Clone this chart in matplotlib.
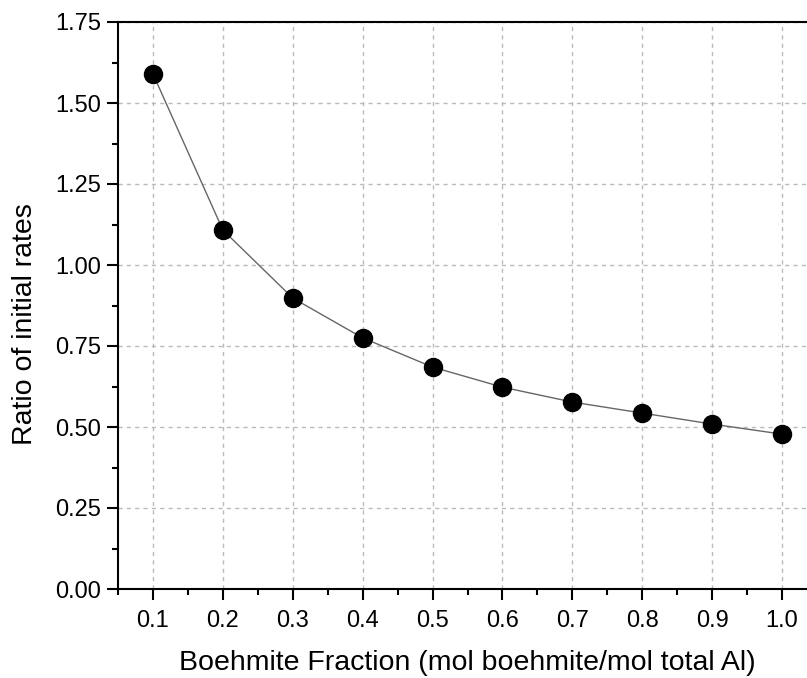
import matplotlib
matplotlib.use("Agg")
import matplotlib.pyplot as plt
from matplotlib.ticker import MultipleLocator, FormatStrFormatter

plt.rcParams['font.family'] = ['Liberation Sans', 'DejaVu Sans']

fraction = [0.1, 0.2, 0.3, 0.4, 0.5, 0.6, 0.7, 0.8, 0.9, 1.0]
ratio = [1.590, 1.108, 0.898, 0.775, 0.685, 0.623, 0.577, 0.543, 0.509, 0.478]

W, H = 807, 678
fig = plt.figure(figsize=(W / 100, H / 100), dpi=100)
ax = fig.add_axes([118 / W, (H - 589) / H, (817 - 118) / W, (589 - 22) / H])

ax.plot(fraction, ratio, color='#666666', lw=1.0, zorder=3)
ax.plot(fraction, ratio, 'o', color='black', ms=13, zorder=4)

ax.set_xlim(0.05, 1.05)
ax.set_ylim(0, 1.75)
ax.xaxis.set_major_locator(MultipleLocator(0.1))
ax.xaxis.set_minor_locator(MultipleLocator(0.05))
ax.yaxis.set_major_locator(MultipleLocator(0.25))
ax.yaxis.set_minor_locator(MultipleLocator(0.125))
ax.xaxis.set_major_formatter(FormatStrFormatter('%.1f'))
ax.yaxis.set_major_formatter(FormatStrFormatter('%.2f'))
ax.set_xticks([0.1, 0.2, 0.3, 0.4, 0.5, 0.6, 0.7, 0.8, 0.9, 1.0])

ax.grid(True, which='major', linestyle=(0, (3, 3)), color='#bbbbbb', lw=1)
ax.set_axisbelow(True)

for s in ax.spines.values():
    s.set_linewidth(1.5)
ax.tick_params(which='major', direction='out', length=8, width=1.5, labelsize=17, pad=4)
ax.tick_params(axis='x', which='major', pad=7)
ax.tick_params(which='minor', direction='out', length=4, width=1.5)

ax.set_xlabel('Boehmite Fraction (mol boehmite/mol total Al)', fontsize=20.5)
ax.set_ylabel('Ratio of initial rates', fontsize=20.5)
# label positions in axes coordinates (x label centre under the plotted range)
ax.xaxis.set_label_coords((467.5 - 118) / (817 - 118), -(650 - 589) / (589 - 22))
ax.xaxis.label.set_va('top')
ax.yaxis.set_label_coords(-(118 - 12) / (817 - 118), (589 - 324) / (589 - 22))
ax.yaxis.label.set_va('top')

fig.savefig('out.png', dpi=100)
